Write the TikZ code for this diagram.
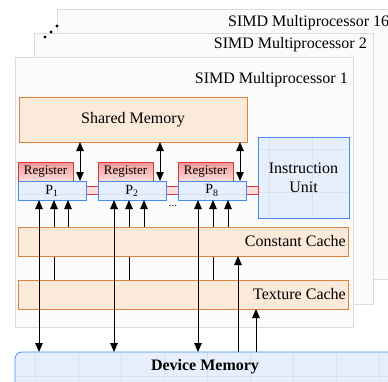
\documentclass[tikz,border=0pt]{standalone}
\usepackage{fontspec}
\setmainfont{LiberationSerif}[Extension=.ttf, UprightFont=*-Regular, BoldFont=*-Bold, ItalicFont=*-Italic, BoldItalicFont=*-BoldItalic]
\usetikzlibrary{arrows.meta,calc}
\definecolor{orfill}{RGB}{251,233,218}
\definecolor{ordraw}{RGB}{224,130,60}
\definecolor{blfill}{RGB}{232,239,252}
\definecolor{blgrid}{RGB}{214,225,246}
\definecolor{bldraw}{RGB}{70,140,240}
\definecolor{rddraw}{RGB}{228,50,50}
\definecolor{rdtop}{RGB}{242,150,150}
\definecolor{rdbot}{RGB}{252,222,222}
\definecolor{mpfill}{RGB}{251,251,251}
\definecolor{mpdraw}{RGB}{220,220,220}
\begin{document}
\begin{tikzpicture}[x=1pt,y=-1pt,
  box/.style={inner sep=0pt, outer sep=0pt, line width=0.8pt, rectangle},
  mpbox/.style={box, draw=mpdraw, fill=mpfill},
  mplabel/.style={inner sep=0pt, font=\fontsize{16}{18}\selectfont},
  orbox/.style={box, draw=ordraw, fill=orfill, font=\fontsize{16}{18}\selectfont},
  orlabel/.style={anchor=east, inner sep=2pt, font=\fontsize{16}{18}\selectfont},
  gridfill/.style={path picture={\draw[blgrid, line width=0.5pt, step=43pt]
      (path picture bounding box.south west) grid (path picture bounding box.north east);}},
  blbox/.style={box, draw=bldraw, fill=blfill, gridfill},
  regbox/.style={box, draw=rddraw, top color=rdtop, bottom color=rdbot,
    minimum width=55pt, minimum height=19pt, font=\fontsize{13}{15}\selectfont},
  pbox/.style={blbox, minimum width=68pt, minimum height=19pt, font=\fontsize{14}{16}\selectfont},
  linkbox/.style={box, draw=rddraw, fill=rdbot, minimum width=12pt, minimum height=8pt},
  tip/.tip={Triangle[length=9pt,width=7.5pt]},
  arr/.style={line width=1pt, -tip},
  dbl/.style={line width=1pt, tip-tip},
  dotmark/.style={circle, fill=black, inner sep=0pt, minimum size=3.2pt}
]
\clip (0,0) rectangle (388,381);
\fill[white] (0,0) rectangle (388,381);

% multiprocessor frames
\node[mpbox, minimum width=343pt, minimum height=270pt] (mp16) at (228.5,144) {};
\node[mplabel, anchor=base west] (mp16l) at ([shift={(171,17)}]mp16.north west) {SIMD Multiprocessor 16};
\node[mpbox, minimum width=339pt, minimum height=271pt] (mp2) at (203.5,168.5) {};
\node[mplabel, anchor=base east] (mp2l) at ([shift={(-6,15)}]mp2.north east) {SIMD Multiprocessor 2};
\node[mpbox, minimum width=338pt, minimum height=270pt] (mp1) at (184,192) {};
\node[mplabel, anchor=base east] (mp1l) at ([shift={(-5,26)}]mp1.north east) {SIMD Multiprocessor 1};

\node[dotmark] (d1) at (45,37) {};
\node[dotmark] (d2) at (51,32) {};
\node[dotmark] (d3) at (57,26) {};

% shared memory and instruction unit
\node[orbox, minimum width=228pt, minimum height=45pt] (sm) at (133,119.5) {Shared Memory};
\node[blbox, minimum width=91pt, minimum height=81pt, align=center,
  font=\fontsize{16}{19}\selectfont] (iu) at (303.5,177.5) {Instruction\\Unit};

% processors
\node[linkbox] (l12) at (92,190) {};
\node[linkbox] (l28) at (172,190) {};
\node[linkbox] (l8i) at (252,190) {};

\node[regbox] (r1) at (45.5,171.5) {Register};
\node[regbox] (r2) at (125.5,171.5) {Register};
\node[regbox] (r8) at (205.5,171.5) {Register};
\node[pbox] (p1) at (52,190.5) {P\textsubscript{1}};
\node[pbox] (p2) at (132,190.5) {P\textsubscript{2}};
\node[pbox] (p8) at (212,190.5) {P\textsubscript{8}};
\node[anchor=base, inner sep=0pt, font=\fontsize{11}{12}\selectfont] (dots) at ([shift={(1,12)}]l28.south) {...};

% texture cache and its lines (behind constant cache)
\node[orbox, minimum width=330pt, minimum height=29pt] (tc) at (183,294.5) {};
\node[orlabel] (tcl) at (tc.east) {Texture Cache};
\foreach \p/\o in {p1/36, p2/31, p8/35}{
  \draw[arr] ([xshift=\o pt]\p.south west |- tc.north) -- ([xshift=\o pt]\p.south west);
}

% constant cache
\node[orbox, minimum width=330pt, minimum height=29pt] (cc) at (183,241.5) {};
\node[orlabel] (ccl) at (cc.east) {Constant Cache};
\foreach \p/\o in {p1/50, p2/46, p8/50}{
  \draw[arr] ([xshift=\o pt]\p.south west |- cc.north) -- ([xshift=\o pt]\p.south west);
}

% shared memory <-> processors
\foreach \p in {p1,p2,p8}{
  \draw[dbl] ([xshift=62pt]\p.north west |- sm.south) -- ([xshift=62pt]\p.north west);
}

% device memory
\node[box, draw=bldraw, fill=blfill, gridfill, rounded corners=7pt,
  minimum width=385pt, minimum height=48pt] (dm) at (207.5,376) {};
\node[font=\bfseries\fontsize{16}{18}\selectfont, inner sep=0pt] (dml) at (205,367) {Device Memory};

\foreach \p/\o in {p1/21, p2/16, p8/20}{
  \draw[dbl] ([xshift=\o pt]\p.south west) -- ([xshift=\o pt]\p.south west |- dm.north);
}
\draw[arr] ([xshift=220pt]cc.south west |- dm.north) -- ([xshift=220pt]cc.south west);
\draw[arr] ([xshift=238pt]tc.south west |- dm.north) -- ([xshift=238pt]tc.south west);
\end{tikzpicture}
\end{document}
